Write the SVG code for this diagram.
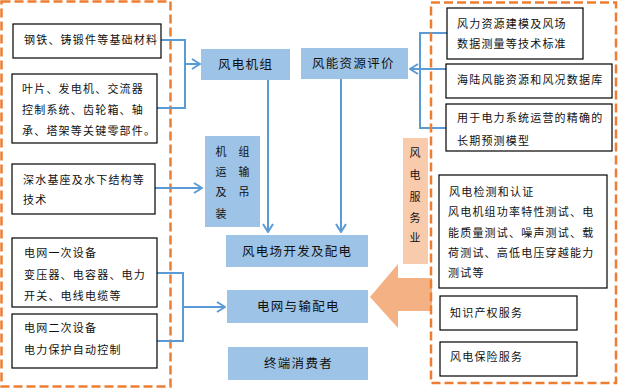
<svg xmlns="http://www.w3.org/2000/svg" width="623" height="388" viewBox="0 0 623 388">
<defs>
<style>
.dash{fill:none;stroke:#ED7D31;stroke-width:2.5;stroke-dasharray:9 4}
.wb{fill:#fff;stroke:#000;stroke-width:1.2}
.bb{fill:#9DC3E6}
.t{font-family:"Noto Sans CJK SC","Noto Sans",sans-serif;font-size:11px;letter-spacing:1.2px;fill:#111}
.tc{font-family:"Noto Sans CJK SC","Noto Sans",sans-serif;font-size:12.5px;letter-spacing:1.3px;fill:#111}
.tv{font-family:"Noto Sans CJK SC","Noto Sans",sans-serif;font-size:11px;fill:#111;text-anchor:middle}
.ln{fill:none;stroke:#5B9BD5;stroke-width:2}
.arr{fill:none;stroke:#5B9BD5;stroke-width:2;marker-end:url(#ah)}
</style>
<marker id="ah" markerWidth="10" markerHeight="12" refX="9" refY="6" orient="auto" markerUnits="userSpaceOnUse">
<path d="M1,1 L9,6 L1,11" fill="none" stroke="#5B9BD5" stroke-width="2"/>
</marker>
</defs>
<rect width="623" height="388" fill="#fff"/>

<rect class="dash" x="1.5" y="1.5" width="169" height="385"/>

<g id="connectors">
<polyline class="ln" points="161,40 185,40 185,108 157,108"/>
<line class="arr" x1="185" y1="64" x2="200" y2="64"/>
<line class="arr" x1="155" y1="188" x2="202" y2="188"/>
<polyline class="ln" points="157,273 183,273 183,341 157,341"/>
<line class="arr" x1="183" y1="307" x2="225" y2="307"/>
<line class="arr" x1="268" y1="80" x2="268" y2="232"/>
<line class="arr" x1="341" y1="79" x2="341" y2="232"/>
<polyline class="ln" points="447,33 420,33 420,128 446,128"/>
<line class="arr" x1="446" y1="69" x2="410" y2="69"/>
</g>

<g id="n-steel"><rect class="wb" x="13" y="24" width="148" height="34"/><text class="t" x="24" y="44">钢铁、铸锻件等基础材料</text></g>
<g id="n-parts"><rect class="wb" x="12" y="74" width="145" height="69"/>
<text class="t" x="22" y="93">叶片、发电机、交流器</text>
<text class="t" x="22" y="114">控制系统、齿轮箱、轴</text>
<text class="t" x="22" y="135">承、塔架等关键零部件。</text></g>
<g id="n-foundation"><rect class="wb" x="12" y="164" width="143" height="50"/>
<text class="t" x="23" y="184">深水基座及水下结构等</text>
<text class="t" x="23" y="204">技术</text></g>
<g id="n-grid1"><rect class="wb" x="12" y="238" width="145" height="69"/>
<text class="t" x="24" y="257">电网一次设备</text>
<text class="t" x="24" y="279">变压器、电容器、电力</text>
<text class="t" x="24" y="300">开关、电线电缆等</text></g>
<g id="n-grid2"><rect class="wb" x="12" y="314" width="145" height="54"/>
<text class="t" x="24" y="332">电网二次设备</text>
<text class="t" x="24" y="354">电力保护自动控制</text></g>

<g id="n-turbine"><rect class="bb" x="201" y="49" width="89" height="31"/><text class="tc" x="218" y="69">风电机组</text></g>
<g id="n-resource"><rect class="bb" x="301" y="48" width="107" height="31"/><text class="tc" x="312" y="68">风能资源评价</text></g>
<g id="n-transport"><rect class="bb" x="205" y="136" width="55" height="91"/>
<text class="tv" x="221" y="156">机</text><text class="tv" x="244" y="156">组</text>
<text class="tv" x="221" y="176">运</text><text class="tv" x="244" y="176">输</text>
<text class="tv" x="221" y="196">及</text><text class="tv" x="244" y="196">吊</text>
<text class="tv" x="221" y="218">装</text></g>
<g id="n-farm"><rect class="bb" x="226" y="235" width="142" height="32"/><text class="tc" x="242" y="256">风电场开发及配电</text></g>
<g id="n-gridtx"><rect class="bb" x="227" y="290" width="141" height="33"/><text class="tc" x="257" y="311">电网与输配电</text></g>
<g id="n-consumer"><rect class="bb" x="228" y="347" width="140" height="33"/><text class="tc" x="264" y="368">终端消费者</text></g>

<g id="n-service"><rect fill="#F8CBAD" x="403" y="138" width="25" height="126"/>
<text class="tv" x="415" y="157">风</text><text class="tv" x="415" y="179">电</text><text class="tv" x="415" y="201">服</text><text class="tv" x="415" y="222">务</text><text class="tv" x="415" y="242">业</text></g>
<polygon id="big-arrow" fill="#F4B183" points="370,297 398,264 398,278 432,278 432,311 398,311 398,328"/>

<rect class="dash" x="431" y="2.5" width="185" height="380.5"/>

<g id="n-standard"><rect class="wb" x="447" y="8" width="136" height="51"/>
<text class="t" x="457" y="28">风力资源建模及风场</text>
<text class="t" x="457" y="48">数据测量等技术标准</text></g>
<g id="n-database"><rect class="wb" x="446" y="64" width="166" height="34"/>
<text class="t" x="457" y="84">海陆风能资源和风况数据库</text></g>
<g id="n-forecast"><rect class="wb" x="446" y="104" width="166" height="47"/>
<text class="t" x="457" y="122">用于电力系统运营的精确的</text>
<text class="t" x="457" y="145">长期预测模型</text></g>
<g id="n-testing"><rect class="wb" x="439" y="175" width="168" height="113"/>
<text class="t" x="449" y="196">风电检测和认证</text>
<text class="t" x="448" y="216">风电机组功率特性测试、电</text>
<text class="t" x="448" y="237">能质量测试、噪声测试、载</text>
<text class="t" x="448" y="257">荷测试、高低电压穿越能力</text>
<text class="t" x="448" y="277">测试等</text></g>
<g id="n-ip"><rect class="wb" x="440" y="296" width="137" height="34"/><text class="t" x="450" y="317">知识产权服务</text></g>
<g id="n-insurance"><rect class="wb" x="440" y="342" width="137" height="34"/><text class="t" x="450" y="361">风电保险服务</text></g>
</svg>
